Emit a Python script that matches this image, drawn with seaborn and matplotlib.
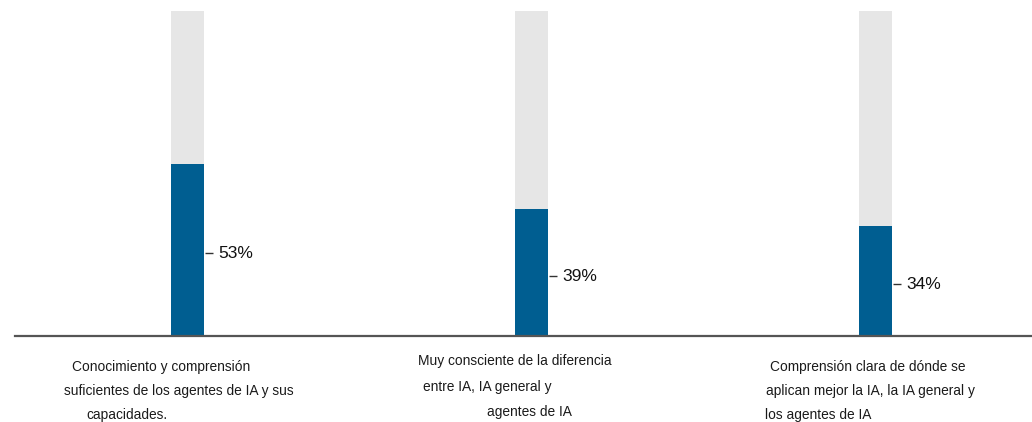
import matplotlib
matplotlib.use("Agg")
import matplotlib.pyplot as plt
import pandas as pd
import seaborn as sns

# Survey results: share of respondents per statement
categories = ["Conocimiento", "Consciente", "Comprensión"]
values = [53, 39, 34]
totals = [100, 100, 100]
label_lines = [
    ["Conocimiento y comprensión",
     "suficientes de los agentes de IA y sus",
     "capacidades."],
    ["Muy consciente de la diferencia",
     "entre IA, IA general y",
     "agentes de IA"],
    ["Comprensión clara de dónde se",
     "aplican mejor la IA, la IA general y",
     "los agentes de IA"],
]
# per-line placement (pixel offsets from each bar centre: dx, dy below baseline)
label_offsets = [
    [(-116, 31), (-124, 55), (-101, 79)],
    [(-113, 25), (-108, 51), (-44, 76)],
    [(-105, 31), (-109, 55), (-110, 79)],
]

BLUE = "#005e91"
TRACK = "#e6e6e6"
AXIS = "#555555"

sns.set_theme(style="white")
plt.rcParams["font.family"] = ["Liberation Sans", "DejaVu Sans"]

df = pd.DataFrame({"cat": categories, "value": values, "total": totals})

fig = plt.figure(figsize=(10.32, 4.22), dpi=100)
ax = fig.add_axes([15 / 1032, 86 / 422, 1017 / 1032, 325 / 422])

bar_w = 0.096
sns.barplot(data=df, x="cat", y="total", color=TRACK, width=bar_w,
            saturation=1, linewidth=0, ax=ax, zorder=1)
sns.barplot(data=df, x="cat", y="value", color=BLUE, width=bar_w,
            saturation=1, linewidth=0, ax=ax, zorder=2)

ax.set_xlim(-0.5015, 2.455)
ax.set_ylim(0, 100)
ax.set_xlabel("")
ax.set_ylabel("")
ax.set_xticks([])
ax.set_yticks([])
for side in ["top", "left", "right"]:
    ax.spines[side].set_visible(False)
ax.spines["bottom"].set_color(AXIS)
ax.spines["bottom"].set_linewidth(1.6)

# value labels beside each bar, vertically at the middle of the filled part
for i, v in enumerate(values):
    ax.annotate(f"{v}%", xy=(i + bar_w / 2, v / 2), xycoords="data",
                xytext=(14, -4), textcoords="offset pixels",
                ha="left", va="center", fontsize=12.5, color="#111111")

# short leader ticks between bar edge and label, drawn in pixel space
inv = ax.transData.inverted()
for i, v in enumerate(values):
    x0, y0 = ax.transData.transform((i + bar_w / 2, v / 2))
    (xa, ya), (xb, yb) = inv.transform([(x0 + 1, y0 - 3), (x0 + 9, y0 - 3)])
    ax.plot([xa, xb], [ya, yb], color="#333333", lw=1.0,
            solid_capstyle="butt", zorder=3)

# multi-line category captions beneath the axis
for i, (lines, offs) in enumerate(zip(label_lines, label_offsets)):
    for text, (dx, dy) in zip(lines, offs):
        ax.annotate(text, xy=(i, 0), xycoords=("data", "axes fraction"),
                    xytext=(dx, -dy), textcoords="offset pixels",
                    ha="left", va="center", fontsize=9.9, color="#1a1a1a",
                    annotation_clip=False)

fig.savefig("out.png", dpi=100)
